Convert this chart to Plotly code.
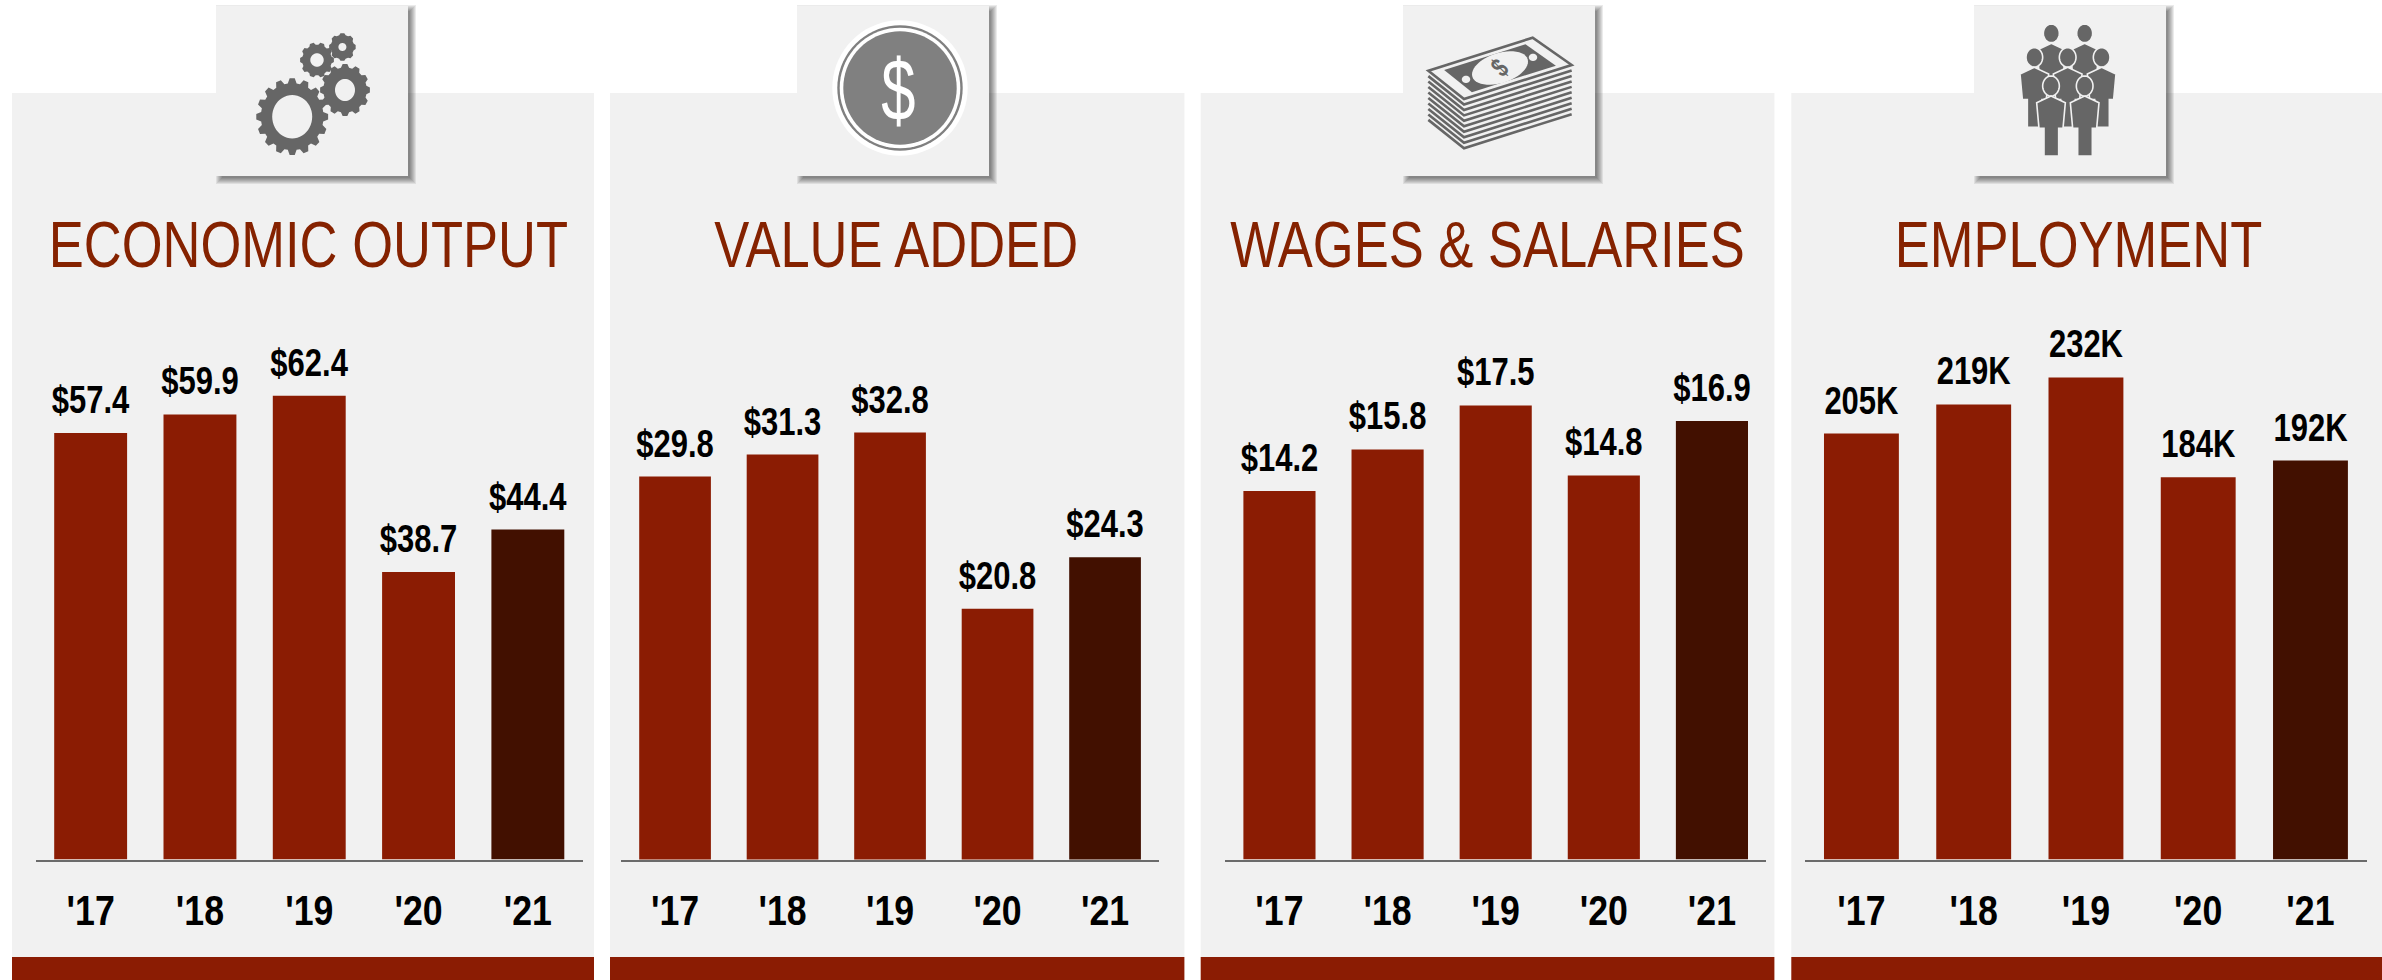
import math
import plotly.graph_objects as go

# ---------- data ----------
years = ["'17", "'18", "'19", "'20", "'21"]
titles = ["ECONOMIC OUTPUT", "VALUE ADDED", "WAGES & SALARIES", "EMPLOYMENT"]
economic_output = [57.4, 59.9, 62.4, 38.7, 44.4]
value_added = [29.8, 31.3, 32.8, 20.8, 24.3]
wages_salaries = [14.2, 15.8, 17.5, 14.8, 16.9]
employment = [205, 219, 232, 184, 192]
output_labels = ["$57.4", "$59.9", "$62.4", "$38.7", "$44.4"]
value_labels = ["$29.8", "$31.3", "$32.8", "$20.8", "$24.3"]
wages_labels = ["$14.2", "$15.8", "$17.5", "$14.8", "$16.9"]
employment_labels = ["205K", "219K", "232K", "184K", "192K"]

# ---------- layout constants (pixels) ----------
W, H = 2382, 980
BASE_Y, TOP_Y = 859.5, 290
RED, DARK, TITLE, PANEL, ICON = "#8B1C03", "#421000", "#852200", "#F1F1F1", "#666666"
SANS = "Liberation Sans, Arial, sans-serif"

series = [economic_output, value_added, wages_salaries, employment]
labels = [output_labels, value_labels, wages_labels, employment_labels]
plot_x = [(36, 582.5), (621.3, 1158.8), (1225.4, 1766), (1805.3, 2366.6)]
panel_x = [(12, 594), (610, 1184.4), (1200.7, 1774.4), (1791.3, 2382)]
box_x = [(216, 408), (797, 989), (1403, 1595), (1974, 2166)]
title_cx = [308.4, 896, 1487, 2078]
y_base = [0, 3.7, 0, 0]
px_per_unit = [7.43, 14.67, 25.95, 2.078]

def fx(x): return x / W
def fy(y): return 1 - y / H

def path_from(pts):
    return "M" + "L".join(f"{fx(x):.5f},{fy(y):.5f}" for x, y in pts) + "Z"

def rect(x0, y0, x1, y1, color):
    return dict(type="rect", xref="paper", yref="paper", x0=fx(x0), x1=fx(x1), y0=fy(y1), y1=fy(y0),
                fillcolor=color, line_width=0, layer="below")

def path_shape(path, color, line=None, lw=0):
    return dict(type="path", xref="paper", yref="paper", path=path, fillcolor=color,
                line=dict(color=line or "rgba(0,0,0,0)", width=lw), layer="below")

def ellipse(cx, cy, rx, ry, rot=0, n=48):
    c, s = math.cos(rot), math.sin(rot)
    out = []
    for i in range(n):
        a = 2 * math.pi * i / n
        ex, ey = rx * math.cos(a), ry * math.sin(a)
        out.append((cx + ex * c - ey * s, cy + ex * s + ey * c))
    return out

def gear(cx, cy, rx, ry, hx, hy, teeth):
    pts = []
    root = 0.87
    for i in range(teeth):
        a = 2 * math.pi * i / teeth
        st = 2 * math.pi / teeth
        for frac, r in [(-0.36, root), (-0.18, 1), (0.18, 1), (0.36, root)]:
            t = a + frac * st
            pts.append((cx + rx * r * math.cos(t), cy + ry * r * math.sin(t)))
    return path_from(pts) + path_from(ellipse(cx, cy, hx, hy))

shapes, annotations = [], []

# panels, footers
for (x0, x1) in panel_x:
    shapes.append(rect(x0, 93, x1, 957, PANEL))
    shapes.append(rect(x0, 957, x1, 980, RED))

# icon boxes with soft shadows
for (x0, x1) in box_x:
    for e in (4, 3, 2, 1, 0, -1, -2):
        shapes.append(rect(x0 + 4 - e, 9 - e, x1 + 4 + e, 176 + 4 + e, "rgba(0,0,0,0.08)"))
    shapes.append(rect(x0, 6, x1, 176, PANEL))

# gears
for g in [(292.2, 116.7, 36, 38.5, 20, 21.7, 16), (345, 90, 25, 26, 10, 11, 12),
          (317, 60, 17, 17.7, 6.7, 6.7, 10), (342.4, 47, 13.4, 14, 4, 4, 8)]:
    shapes.append(path_shape(gear(*g), ICON))

# coin
shapes.append(path_shape(path_from(ellipse(900, 88, 67.7, 67.7, n=72)), "#FFFFFF"))
shapes.append(path_shape(path_from(ellipse(900, 88, 62.7, 62.7, n=72)), "#808080"))
shapes.append(path_shape(path_from(ellipse(900, 88, 60.3, 60.3, n=72)), "#FFFFFF"))
shapes.append(path_shape(path_from(ellipse(900, 88, 56.7, 56.7, n=72)), "#808080"))
annotations.append(dict(text="$", x=fx(899), y=fy(90), xref="paper", yref="paper", showarrow=False,
                        xanchor="center", yanchor="middle", font=dict(family=SANS, size=88, color="#FFFFFF")))

# money stack (icon coordinates come from the zoom space, 1/3 px)
def mz(u, v): return (1380 + u / 3, v / 3)
for i in range(9, 0, -1):
    d = 16.4 * i
    pts = [mz(145, 212 + d), mz(252, 297 + d), mz(575, 195 + d)]
    shapes.append(dict(type="path", xref="paper", yref="paper", layer="below",
                       path="M" + "L".join(f"{fx(x):.5f},{fy(y):.5f}" for x, y in pts),
                       line=dict(color=ICON, width=2.6)))
bill = [(145, 212), (458, 113), (575, 195), (252, 297)]
shapes.append(path_shape(path_from([mz(u, v) for u, v in bill]), PANEL, ICON, 2.6))
inner = [(360 + 0.78 * (u - 360), 204 + 0.78 * (v - 204)) for u, v in bill]
shapes.append(path_shape(path_from([mz(u, v) for u, v in inner]), ICON))
oval = ellipse(1380 + 120, 68, 29, 15, rot=-0.31)
shapes.append(path_shape(path_from(oval), PANEL))
for u, v in [(258, 238), (459, 172)]:
    cx, cy = mz(u, v)
    shapes.append(path_shape(path_from(ellipse(cx, cy, 4.2, 3.6)), PANEL))
annotations.append(dict(text="<b>$</b>", x=fx(1500), y=fy(68), xref="paper", yref="paper", showarrow=False,
                        xanchor="center", yanchor="middle", textangle=-45,
                        font=dict(family=SANS, size=28, color=ICON)))

# people
def person(hx, hy, rx, ry):
    tpl = [(0, 30), (-43, 50), (-36, 127), (-21, 127), (-21, 210), (23, 210), (23, 127), (36, 127), (43, 50)]
    to_px = lambda u, v: (1950 + u / 3, v / 3)
    body = path_from([to_px(hx + a, hy + b) for a, b in tpl])
    head = path_from([to_px(u, v) for u, v in ellipse(hx, hy, rx, ry)])
    shapes.append(path_shape(body, ICON, PANEL, 1.6))
    shapes.append(path_shape(head, ICON, PANEL, 1.6))
for hx, hy, rx, ry in [(304, 100, 24, 28), (404, 100, 24, 28),
                       (253, 172, 25, 29), (353, 172, 25, 29), (455, 172, 25, 29),
                       (303, 258, 25, 30), (404, 258, 25, 30)]:
    person(hx, hy, rx, ry)

# titles
for t, cx in zip(titles, title_cx):
    annotations.append(dict(text=t, x=fx(cx), y=fy(244), xref="paper", yref="paper", showarrow=False,
                            xanchor="center", yanchor="middle",
                            font=dict(family=SANS, size=65, color=TITLE)))

# charts
fig = go.Figure()
layout_axes = {}
for i in range(4):
    n = "" if i == 0 else str(i + 1)
    colors = [RED] * 4 + [DARK]
    fig.add_trace(go.Bar(x=years, y=series[i], text=labels[i], textposition="outside", texttemplate="%{text}",
                         constraintext="none",
                         marker=dict(color=colors, line_width=0), xaxis=f"x{n}", yaxis=f"y{n}",
                         cliponaxis=False, hoverinfo="skip",
                         textfont=dict(family=SANS, size=39, color="#000000", weight="bold")))
    x0, x1 = plot_x[i]
    top = y_base[i] + (BASE_Y - TOP_Y) / px_per_unit[i]
    layout_axes[f"xaxis{n}"] = dict(domain=[fx(x0), fx(x1)], anchor=f"y{n}", type="category", range=[-0.5, 4.5],
                                    showgrid=False, zeroline=False, showline=True, linecolor="#6B6B6B", linewidth=2,
                                    ticks="outside", ticklen=13, tickcolor="rgba(0,0,0,0)",
                                    tickfont=dict(family=SANS, size=42, color="#000000", weight="bold"))
    layout_axes[f"yaxis{n}"] = dict(domain=[fy(BASE_Y), fy(TOP_Y)], anchor=f"x{n}", range=[y_base[i], top],
                                    visible=False, showgrid=False, zeroline=False)

fig.update_layout(width=W, height=H, margin=dict(l=0, r=0, t=0, b=0), autosize=False,
                  paper_bgcolor="#FFFFFF", plot_bgcolor="rgba(0,0,0,0)", showlegend=False,
                  bargap=0.333, shapes=shapes, annotations=annotations, **layout_axes)

post = """
document.body.style.margin='0';
document.documentElement.style.overflow='hidden';
function squeeze(sel, s, dy, test){
  document.querySelectorAll(sel).forEach(function(el){
    if (test && !test(el)) return;
    var b = el.getBBox(); var cx = b.x + b.width/2;
    var t = el.getAttribute('transform') || '';
    el.setAttribute('transform', 'translate(0,' + dy + ') ' + t + ' translate(' + cx + ',0) scale(' + s + ',1) translate(' + (-cx) + ',0)');
  });
}
squeeze('.annotation-text', 0.808, 0, function(e){ return e.textContent !== '$'; });
squeeze('.annotation-text', 0.70, 0, function(e){ return e.textContent === '$'; });
squeeze('.bartext', 0.795, -9);
squeeze('g[class$="tick"] text', 0.85, 0);
"""
fig.write_html("out.html", post_script=post, config=dict(displayModeBar=False))
